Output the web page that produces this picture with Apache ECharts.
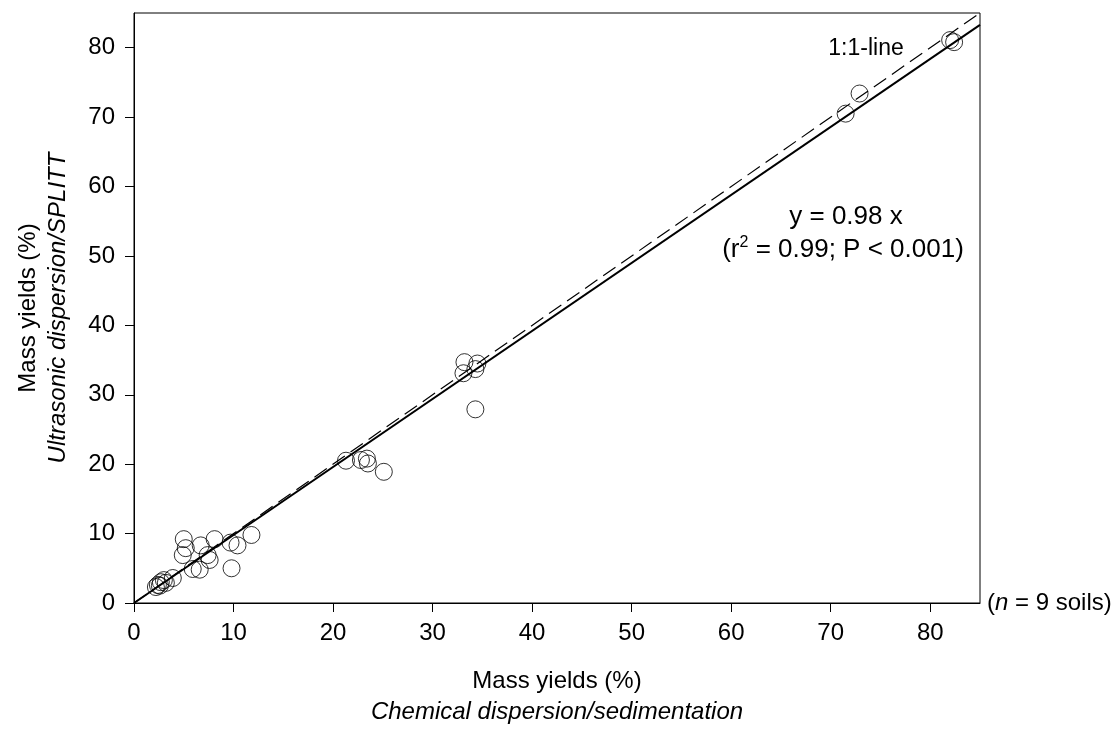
<!DOCTYPE html>
<html>
<head>
<meta charset="utf-8">
<script src="https://cdn.jsdelivr.net/npm/echarts@6/dist/echarts.min.js"></script>
<style>html,body{margin:0;padding:0;background:#fff}#c{width:1118px;height:733px}</style>
</head>
<body>
<div id="c"></div>
<script>
// Chemical dispersion/sedimentation mass yields (%)
const xVals = [82.0, 82.4, 72.9, 71.5, 33.2, 34.5, 33.1, 34.3, 34.3, 21.3, 22.8, 23.4, 23.5, 25.1,
  5.0, 5.2, 4.9, 6.7, 8.1, 7.4, 7.6, 5.9, 6.6, 9.7, 10.4, 11.8, 9.8, 3.9, 3.0, 2.7, 2.4, 2.2, 2.6, 3.2];
// Ultrasonic dispersion/SPLITT mass yields (%)
const yVals = [81.1, 80.8, 73.4, 70.5, 34.7, 34.5, 33.1, 33.7, 27.9, 20.5, 20.6, 20.8, 20.1, 18.9,
  9.2, 7.9, 6.9, 8.3, 9.2, 6.9, 6.2, 4.9, 4.8, 8.7, 8.3, 9.8, 5.0, 3.6, 3.3, 3.0, 2.6, 2.3, 2.5, 2.9];
const fitSlope = 0.98;
const lineX = [0, 85];
const xTicks = [0, 10, 20, 30, 40, 50, 60, 70, 80];
const yTicks = [0, 10, 20, 30, 40, 50, 60, 70, 80];

const FONT = '"Liberation Sans", Arial, sans-serif';
const points = xVals.map((x, i) => [x, yVals[i]]);
const fitLine = lineX.map(x => [x, fitSlope * x]);
const oneToOne = lineX.map(x => [x, x]);

const chart = echarts.init(document.getElementById('c'), null, {renderer: 'canvas'});
const axisCommon = {
  type: 'value', min: 0, max: 85, interval: 10,
  axisLine: {show: true, onZero: false, lineStyle: {color: '#000', width: 1}},
  axisTick: {show: true, inside: false, length: 9, lineStyle: {color: '#000', width: 1}},
  splitLine: {show: false},
  axisLabel: {color: '#000', fontSize: 24, fontFamily: FONT}
};
chart.setOption({
  animation: false,
  backgroundColor: '#fff',
  grid: {left: 134, right: 138, top: 13, bottom: 130, show: true, borderColor: '#000', borderWidth: 1, containLabel: false},
  xAxis: Object.assign({}, axisCommon, {
    axisTick: Object.assign({}, axisCommon.axisTick, {customValues: xTicks}),
    axisLabel: Object.assign({}, axisCommon.axisLabel, {customValues: xTicks, margin: 18})
  }),
  yAxis: Object.assign({}, axisCommon, {
    axisTick: Object.assign({}, axisCommon.axisTick, {customValues: yTicks}),
    axisLabel: Object.assign({}, axisCommon.axisLabel, {customValues: yTicks, margin: 19})
  }),
  series: [
    {
      type: 'scatter', data: points, symbol: 'circle', symbolSize: 17,
      itemStyle: {color: 'rgba(0,0,0,0)', borderColor: '#000', borderWidth: 1}, z: 2
    },
    {
      type: 'line', data: oneToOne, symbol: 'none',
      lineStyle: {color: '#000', width: 1.2, type: [15, 7]}, z: 3
    },
    {
      type: 'line', data: fitLine, symbol: 'none',
      lineStyle: {color: '#000', width: 2}, z: 3
    }
  ],
  graphic: [
    {type: 'text', x: 866, y: 49, style: {text: '1:1-line', font: '23px ' + FONT, fill: '#000', textAlign: 'center', textVerticalAlign: 'middle'}},
    {type: 'text', x: 846, y: 217, style: {text: 'y = 0.98 x', font: '26px ' + FONT, fill: '#000', textAlign: 'center', textVerticalAlign: 'middle'}},
    {type: 'text', x: 843, y: 250, style: {
      text: '{t|(r}{s|2}{t| = 0.99; P < 0.001)}', textAlign: 'center', textVerticalAlign: 'middle',
      rich: {t: {fontSize: 26, fontFamily: FONT, fill: '#000', lineHeight: 30}, s: {fontSize: 16, fontFamily: FONT, fill: '#000', verticalAlign: 'top', lineHeight: 30}}
    }},
    {type: 'text', x: 987, y: 603, style: {
      text: '{i|(}{it|n}{i| = 9 soils)}', textVerticalAlign: 'middle', textAlign: 'left',
      rich: {i: {fontSize: 24, fontFamily: FONT, fill: '#000'}, it: {fontSize: 24, fontFamily: FONT, fontStyle: 'italic', fill: '#000'}}
    }},
    {type: 'text', x: 557, y: 681, style: {text: 'Mass yields (%)', font: '24px ' + FONT, fill: '#000', textAlign: 'center', textVerticalAlign: 'middle'}},
    {type: 'text', x: 557, y: 712, style: {text: 'Chemical dispersion/sedimentation', font: 'italic 24px ' + FONT, fill: '#000', textAlign: 'center', textVerticalAlign: 'middle'}},
    {type: 'text', x: 28, y: 308, rotation: Math.PI / 2, style: {text: 'Mass yields (%)', font: '24px ' + FONT, fill: '#000', textAlign: 'center', textVerticalAlign: 'middle'}},
    {type: 'text', x: 58, y: 308, rotation: Math.PI / 2, style: {text: 'Ultrasonic dispersion/SPLITT', font: 'italic 24px ' + FONT, fill: '#000', textAlign: 'center', textVerticalAlign: 'middle'}}
  ]
});
</script>
</body>
</html>
